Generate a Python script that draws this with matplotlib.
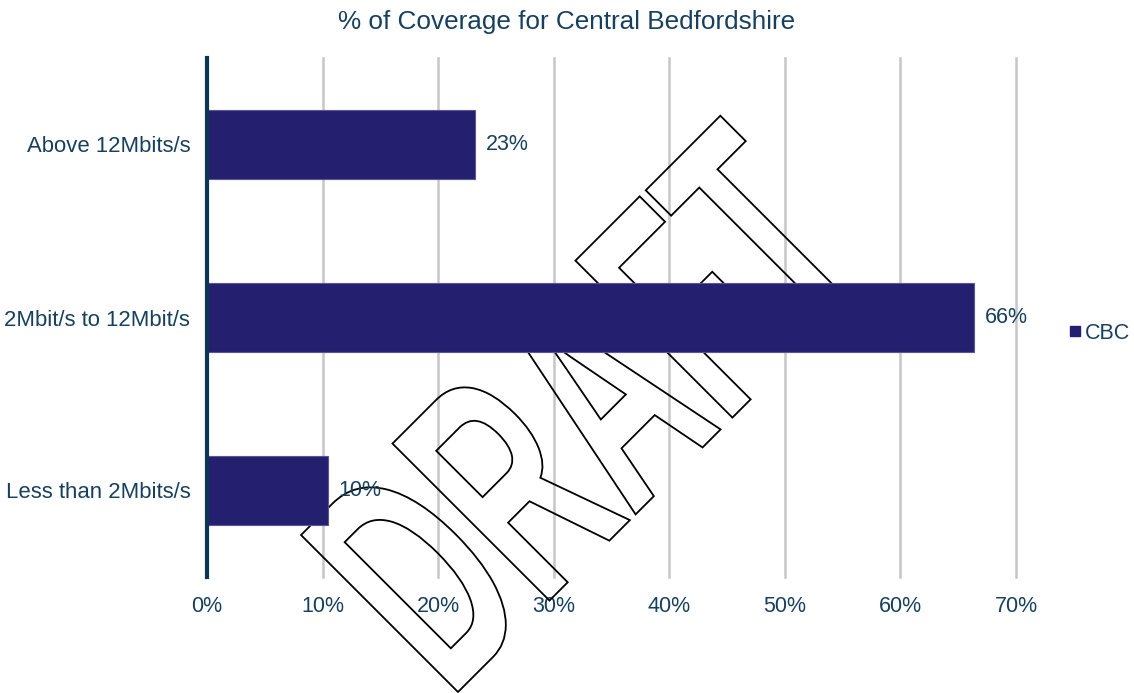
import numpy as np
import matplotlib.pyplot as plt
from matplotlib.textpath import TextPath
from matplotlib.patches import PathPatch
from matplotlib.lines import Line2D
from matplotlib.font_manager import FontProperties
from matplotlib.transforms import Affine2D, IdentityTransform
from matplotlib.ticker import PercentFormatter

plt.rcParams['font.family'] = ['Liberation Sans', 'DejaVu Sans']

categories = ['Less than 2Mbits/s', '2Mbit/s to 12Mbit/s', 'Above 12Mbits/s']
values = [0.105, 0.664, 0.232]
labels = ['10%', '66%', '23%']
series_name = 'CBC'

text_col = '#17405E'
bar_col = '#241F6E'

fig = plt.figure(figsize=(11.34, 6.93), dpi=100)
ax = fig.add_axes([207 / 1134, 1 - 577 / 693, (1016 - 207) / 1134, (577 - 58) / 693])

y = np.arange(len(categories))
bars = ax.barh(y, values, height=0.4, color=bar_col, edgecolor='#5A5596',
               linewidth=0.8, zorder=3)

for b, lab in zip(bars, labels):
    ax.text(b.get_width() + 0.009, b.get_y() + b.get_height() / 2, lab,
            va='center', ha='left', fontsize=15.5, color=text_col, zorder=5)

ax.set_xlim(0, 0.70)
ax.set_ylim(-0.5, 2.5)
ax.set_xticks(np.arange(0, 0.71, 0.1))
ax.xaxis.set_major_formatter(PercentFormatter(1.0, decimals=0))
ax.set_yticks(y)
ax.set_yticklabels(categories)
ax.tick_params(axis='both', length=0, labelcolor=text_col)
ax.tick_params(axis='x', pad=14, labelsize=15.5)
ax.tick_params(axis='y', pad=12, labelsize=15.9)
ax.grid(axis='x', color='#C6C6C6', linewidth=1.8, zorder=0)
for gl in ax.get_xgridlines():
    gl.set_clip_on(False)
for s in ['top', 'right', 'bottom']:
    ax.spines[s].set_visible(False)
ax.spines['left'].set_color('#0E3550')
ax.spines['left'].set_linewidth(3)
ax.spines['left'].set_zorder(4)

fig.text(0.5, 1 - 22 / 693, '% of Coverage for Central Bedfordshire',
         ha='center', va='center', fontsize=18.8, color=text_col)

handle = Line2D([], [], marker='s', linestyle='', markersize=6.5,
                markerfacecolor=bar_col, markeredgecolor=bar_col)
leg = fig.legend([handle], [series_name], loc='center left',
                 bbox_to_anchor=(1070 / 1134, 1 - 333 / 693),
                 frameon=False, fontsize=15.5, handlelength=0.5,
                 handletextpad=0.2, borderpad=0, borderaxespad=0)
for t in leg.get_texts():
    t.set_color(text_col)

# DRAFT watermark (outline only), drawn in pixel space
tp = TextPath((0, 0), 'DRAFT', size=100,
              prop=FontProperties(family=['Liberation Sans Narrow', 'Liberation Sans'], weight='bold'))
bb = tp.get_extents()
tr = (Affine2D().translate(-bb.x0, -bb.y0)
      .scale(593 / bb.width, 222 / bb.height)
      .rotate_deg(45)
      .translate(458, 693 - 692))
wm = PathPatch(tr.transform_path(tp), facecolor='none', edgecolor='black',
               linewidth=1.3, transform=IdentityTransform(), zorder=2)
ax.add_artist(wm)
wm.set_clip_on(False)

fig.savefig('out.png', dpi=100)
